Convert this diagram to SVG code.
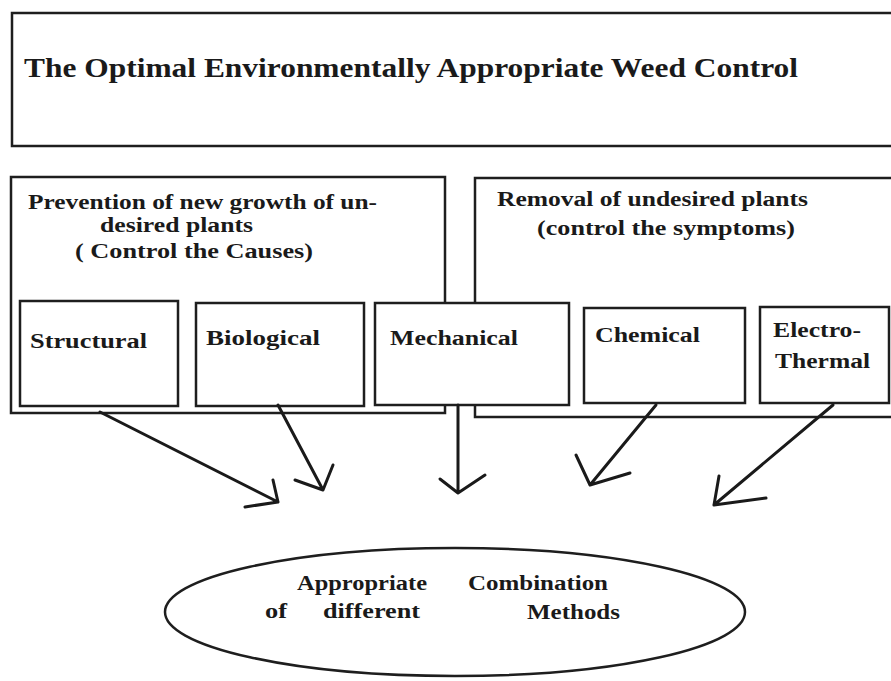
<svg xmlns="http://www.w3.org/2000/svg" width="891" height="681" viewBox="0 0 891 681">
<style>
.box{fill:#fff;stroke:#1e1e1e;stroke-width:2.5}
.t{font-family:"Liberation Serif","Times New Roman",serif;font-weight:bold;font-size:20px;fill:#1a1a1a}
.title{font-family:"Liberation Serif","Times New Roman",serif;font-weight:bold;font-size:27px;fill:#1a1a1a}
.arrow{fill:none;stroke:#1a1a1a;stroke-width:3;stroke-linecap:round;stroke-linejoin:round}
</style>
<rect width="891" height="681" fill="#fff"/>
<g id="title-box">
<rect class="box" x="12" y="13" width="890" height="133"/>
<text class="title" x="24" y="77" textLength="774" lengthAdjust="spacingAndGlyphs">The Optimal Environmentally Appropriate Weed Control</text>
</g>
<g id="prevention">
<rect class="box" x="11" y="177" width="434" height="236"/>
<text class="t" x="28" y="209" textLength="349" lengthAdjust="spacingAndGlyphs">Prevention of new growth of un-</text>
<text class="t" x="100" y="232" textLength="153" lengthAdjust="spacingAndGlyphs">desired plants</text>
<text class="t" x="75" y="258" textLength="238" lengthAdjust="spacingAndGlyphs">( Control the Causes)</text>
</g>
<g id="removal">
<rect class="box" x="475" y="178" width="430" height="239"/>
<text class="t" x="497" y="206" textLength="311" lengthAdjust="spacingAndGlyphs">Removal of undesired plants</text>
<text class="t" x="537" y="235" textLength="258" lengthAdjust="spacingAndGlyphs">(control the symptoms)</text>
</g>
<g id="structural">
<rect class="box" x="20" y="301" width="158" height="105"/>
<text class="t" x="30" y="348" textLength="117" lengthAdjust="spacingAndGlyphs">Structural</text>
</g>
<g id="biological">
<rect class="box" x="196" y="303" width="168" height="103"/>
<text class="t" x="206" y="345" textLength="114" lengthAdjust="spacingAndGlyphs">Biological</text>
</g>
<g id="mechanical">
<rect class="box" x="375" y="303" width="194" height="102"/>
<text class="t" x="390" y="345" textLength="128" lengthAdjust="spacingAndGlyphs">Mechanical</text>
</g>
<g id="chemical">
<rect class="box" x="584" y="308" width="161" height="95"/>
<text class="t" x="595" y="342" textLength="105" lengthAdjust="spacingAndGlyphs">Chemical</text>
</g>
<g id="electro-thermal">
<rect class="box" x="760" y="307" width="129" height="96"/>
<text class="t" x="773" y="337" textLength="88" lengthAdjust="spacingAndGlyphs">Electro-</text>
<text class="t" x="775" y="368" textLength="95" lengthAdjust="spacingAndGlyphs">Thermal</text>
</g>
<g id="connectors">
<path class="arrow" d="M100 412 L278 502 M273 480 L278 502 L245 507"/>
<path class="arrow" d="M278 405 L323 490 M333 465 L323 490 L295 480"/>
<path class="arrow" d="M458 405 L458 493 M440 479 L458 493 L485 475"/>
<path class="arrow" d="M656 405 L590 485 M576 455 L590 485 L630 473"/>
<path class="arrow" d="M833 405 L714 505 M719 476 L714 505 L766 498"/>
</g>
<g id="combination">
<ellipse class="box" cx="455" cy="612" rx="290" ry="64"/>
<text class="t" x="297" y="590" textLength="130" lengthAdjust="spacingAndGlyphs">Appropriate</text>
<text class="t" x="468" y="590" textLength="140" lengthAdjust="spacingAndGlyphs">Combination</text>
<text class="t" x="265" y="618" textLength="22" lengthAdjust="spacingAndGlyphs">of</text>
<text class="t" x="323" y="618" textLength="97" lengthAdjust="spacingAndGlyphs">different</text>
<text class="t" x="527" y="619" textLength="93" lengthAdjust="spacingAndGlyphs">Methods</text>
</g>
</svg>
